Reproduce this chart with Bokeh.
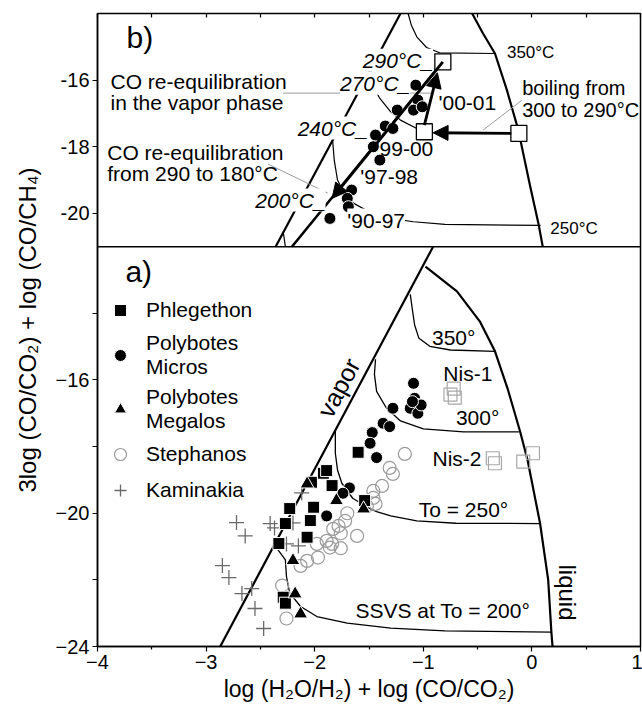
import math
from bokeh.plotting import figure
from bokeh.models import (Range1d, LinearAxis, FixedTicker, Span, Label, Arrow,
                          NormalHead, Legend, LegendItem)
from bokeh.embed import file_html
from bokeh.resources import INLINE

FONT = "Liberation Sans"

# ---------------- axes / ranges ----------------
X_START, X_END = -4, 1
A_Y_START, A_Y_END = -24, -12          # panel a)
B_Y_START, B_Y_END = -21, -14          # panel b)
X_TICKS = [-4, -3, -2, -1, 0, 1]
X_MINOR = [-3.5, -2.5, -1.5, -0.5, 0.5]
X_TOP_TICKS = [-4, -3.5, -3, -2.5, -2, -1.5, -1, -0.5, 0, 0.5, 1]
A_Y_TICKS = [-24, -20, -16]
A_Y_MINOR = [-22, -18, -14]
B_Y_TICKS = [-20, -18, -16]
B_Y_LABELS = ["-20", "-18", "-16"]

# ---------------- panel a) diagram lines ----------------
VAPOR_A_X = [-2.87, -0.91]
VAPOR_A_Y = [-24.0, -12.0]
LIQUID_A_X = [-0.98, -0.69, -0.48, -0.34, -0.22, -0.11, -0.04, 0.075, 0.15, 0.18, 0.19]
LIQUID_A_Y = [-12.6, -13.34, -14.24, -15.14, -16.3, -17.53, -18.4, -20.3, -22.0, -23.6, -24.0]
ISO350_A_X = [-1.12, -1.10, -1.08, -1.04, -0.94, -0.75, -0.34]
ISO350_A_Y = [-13.43, -13.9, -14.35, -14.75, -14.99, -15.1, -15.14]
ISO300_A_X = [-1.44, -1.45, -1.43, -1.34, -1.21, -1.0, -0.63, -0.12]
ISO300_A_Y = [-15.38, -15.83, -16.34, -16.84, -17.23, -17.47, -17.56, -17.56]
ISO250_A_X = [-1.81, -1.81, -1.79, -1.75, -1.65, -1.5, -1.43, -1.3, -1.06, -0.7, 0.08]
ISO250_A_Y = [-17.55, -18.2, -18.7, -19.1, -19.55, -19.85, -19.95, -20.08, -20.23, -20.3, -20.31]
ISO200_A_X = [-2.36, -2.27, -2.26, -2.23, -2.13, -1.98, -1.7, -1.3, -0.8, 0.18]
ISO200_A_Y = [-21.0, -21.4, -21.9, -22.4, -22.8, -23.1, -23.3, -23.45, -23.53, -23.57]

# ---------------- panel a) samples ----------------
PHLEG_X = [-1.60, -2.03, -1.92, -1.89, -1.84, -2.23, -2.27, -2.33, -2.01, -2.04, -2.07, -2.29, -2.27, -1.54]
PHLEG_Y = [-18.17, -19.07, -18.8, -18.72, -19.17, -19.86, -20.31, -20.91, -19.82, -20.22, -20.72, -22.52, -22.7, -19.62]
PMIC_X = [-1.09, -1.08, -1.06, -1.12, -1.05, -1.02, -1.10, -1.28, -1.37, -1.31, -1.47, -1.49, -1.43, -1.68, -1.74, -1.89]
PMIC_Y = [-16.1, -16.55, -16.73, -16.85, -17.0, -16.75, -16.65, -16.85, -17.3, -17.4, -17.58, -17.9, -18.33, -19.24, -19.4, -20.08]
PMEG_X = [-2.07, -1.55, -2.20, -2.18, -2.13, -1.80]
PMEG_Y = [-19.12, -19.87, -21.42, -22.42, -23.02, -19.62]
STEPH_X = [-1.17, -1.31, -1.28, -1.38, -1.46, -1.46, -1.52, -1.44, -1.70, -1.72, -1.78, -1.83,
           -1.76, -1.61, -1.89, -1.84, -1.98, -1.76, -1.86, -1.97, -2.07, -2.13, -2.30, -2.26]
STEPH_Y = [-18.22, -18.64, -18.82, -19.18, -19.33, -19.54, -19.78, -19.72, -20.0, -20.23, -20.38, -20.47,
           -20.6, -20.68, -20.83, -20.92, -20.92, -21.05, -21.03, -21.33, -21.43, -21.58, -22.17, -23.16]
KAMI_X = [-2.72, -2.64, -2.85, -2.79, -2.67, -2.58, -2.55, -2.47, -2.41, -2.37, -2.20, -2.26, -2.15, -2.12]
KAMI_Y = [-20.28, -20.68, -21.57, -21.93, -22.41, -22.26, -22.86, -23.46, -20.31, -20.44, -20.29, -20.92, -20.98, -19.39]
NIS_X = [-0.72, -0.75, -0.71, -0.36, -0.34, -0.08, 0.01]
NIS_Y = [-16.26, -16.44, -16.53, -18.35, -18.5, -18.45, -18.2]

# ---------------- panel b) diagram lines ----------------
VAPOR_B_X = [-2.36, -1.21]
VAPOR_B_Y = [-21.0, -14.0]
LIQUID_B_X = [-0.55, -0.45, -0.34, -0.23, -0.125, -0.015, 0.06, 0.10]
LIQUID_B_Y = [-14.0, -14.6, -15.2, -16.3, -17.5, -19.2, -20.3, -21.0]
ISO350_B_X = [-1.14, -1.11, -1.06, -0.97, -0.85, -0.34]
ISO350_B_Y = [-14.0, -14.35, -14.7, -15.02, -15.18, -15.2]
ISO300_B_X = [-1.48, -1.46, -1.40, -1.30, -1.21, -1.06, -0.99]
ISO300_B_Y = [-15.7, -16.2, -16.55, -16.95, -17.2, -17.45, -17.5]
ISO250_B_X = [-1.84, -1.82, -1.79, -1.72, -1.64, -1.5, -1.3, -1.09, -0.8, 0.08]
ISO250_B_Y = [-17.6, -18.4, -19.0, -19.45, -19.7, -19.95, -20.15, -20.25, -20.33, -20.36]
ISO200_B_X = [-2.29, -2.27]
ISO200_B_Y = [-20.55, -21.0]
REEQ_X = [-0.82, -2.21]
REEQ_Y = [-15.45, -21.0]

# ---------------- panel b) samples ----------------
PB_CIRC_X = [-1.07, -1.24, -1.05, -1.09, -1.01, -1.35, -1.28, -1.44, -1.46, -1.40, -1.66, -1.70, -1.69, -1.86]
PB_CIRC_Y = [-16.15, -16.9, -16.6, -16.9, -16.8, -17.38, -17.45, -17.65, -18.0, -18.4, -19.3, -19.55, -19.8, -20.15]
PB_SQ_X = [-0.82, -0.99, -0.12]
PB_SQ_Y = [-15.45, -17.55, -17.6]

# arrows (x_start, y_start, x_end, y_end)
ARROW_DOWN = (-0.82, -15.45, -1.84, -19.55)
ARROW_UP = (-0.99, -17.35, -0.87, -15.78)
ARROW_BOIL = (-0.19, -17.6, -0.91, -17.58)
# leader lines
LEAD1_X, LEAD1_Y = [-2.29, -0.91], [-16.39, -16.39]
LEAD2_X, LEAD2_Y = [-2.43, -1.88], [-18.52, -19.39]
LEAD3_X, LEAD3_Y = [-0.09, -0.45], [-16.6, -17.5]

# ------------------------------------------------------------
MAIN_Y_END = A_Y_END + (B_Y_END - B_Y_START)
B_OFFSET = MAIN_Y_END - B_Y_END

p = figure(width=642, height=710, x_range=Range1d(X_START, X_END),
           y_range=Range1d(A_Y_START, MAIN_Y_END),
           title="3log (CO/CO₂) + log (CO/CH₄)", title_location="left",
           output_backend="svg", toolbar_location=None,
           min_border_left=97, min_border_right=2, min_border_top=13, min_border_bottom=64)
p.extra_y_ranges = {"b": Range1d(B_Y_START - (A_Y_END - A_Y_START), B_Y_END)}
p.grid.visible = False
p.background_fill_color = "white"
p.border_fill_color = "white"
p.outline_line_color = "black"
p.outline_line_width = 1.5

p.title.text_font = FONT
p.title.text_font_size = "24px"
p.title.text_font_style = "normal"
p.title.text_color = "black"
p.title.align = "center"
p.title.offset = -56
p.title.standoff = 20
p.title.vertical_align = "top"

xa = p.xaxis[0]
xa.ticker = FixedTicker(ticks=X_TICKS, minor_ticks=X_MINOR)
xa.major_tick_out = 5
xa.major_tick_in = 0
xa.minor_tick_out = 3
xa.minor_tick_in = 0
xa.axis_line_width = 1.5
xa.major_tick_line_width = 1.2
xa.minor_tick_line_width = 1.2
xa.major_label_text_font = FONT
xa.major_label_text_font_size = "20px"
xa.major_label_text_color = "black"
xa.major_label_standoff = 3
xa.axis_label = "log (H₂O/H₂) + log (CO/CO₂)"
xa.axis_label_text_font = FONT
xa.axis_label_text_font_size = "23px"
xa.axis_label_text_font_style = "normal"
xa.axis_label_text_color = "black"
xa.axis_label_standoff = 4

ya = p.yaxis[0]
ya.ticker = FixedTicker(ticks=A_Y_TICKS + [t + B_OFFSET for t in B_Y_TICKS], minor_ticks=A_Y_MINOR)
ya.major_label_overrides = {t + B_OFFSET: l for t, l in zip(B_Y_TICKS, B_Y_LABELS)}
ya.major_tick_out = 5
ya.major_tick_in = 0
ya.minor_tick_out = 5
ya.minor_tick_in = 0
ya.axis_line_width = 1.5
ya.major_tick_line_width = 1.2
ya.minor_tick_line_width = 1.2
ya.major_label_text_font = FONT
ya.major_label_text_font_size = "20px"
ya.major_label_text_color = "black"
ya.major_label_standoff = 3

top = LinearAxis(ticker=FixedTicker(ticks=[], minor_ticks=X_TOP_TICKS),
                 minor_tick_in=4, minor_tick_out=0, major_tick_in=0, major_tick_out=0,
                 minor_tick_line_width=1.2, axis_line_color=None, major_label_standoff=0)
p.add_layout(top, "above")

p.add_layout(Span(location=A_Y_END, dimension="width", line_color="black", line_width=1.5))

# ---- panel a lines ----
p.line(VAPOR_A_X, VAPOR_A_Y, line_color="black", line_width=2.2)
p.line(LIQUID_A_X, LIQUID_A_Y, line_color="black", line_width=2.2)
for xs, ys in [(ISO350_A_X, ISO350_A_Y), (ISO300_A_X, ISO300_A_Y),
               (ISO250_A_X, ISO250_A_Y), (ISO200_A_X, ISO200_A_Y)]:
    p.line(xs, ys, line_color="black", line_width=1.3)

# ---- panel b lines ----
p.line(VAPOR_B_X, VAPOR_B_Y, line_color="black", line_width=2.2, y_range_name="b")
p.line(LIQUID_B_X, LIQUID_B_Y, line_color="black", line_width=2.2, y_range_name="b")
for xs, ys in [(ISO350_B_X, ISO350_B_Y), (ISO300_B_X, ISO300_B_Y),
               (ISO250_B_X, ISO250_B_Y), (ISO200_B_X, ISO200_B_Y)]:
    p.line(xs, ys, line_color="black", line_width=1.2, y_range_name="b")
p.line(REEQ_X, REEQ_Y, line_color="black", line_width=2.6, y_range_name="b")
for xs, ys in [(LEAD1_X, LEAD1_Y), (LEAD2_X, LEAD2_Y), (LEAD3_X, LEAD3_Y)]:
    p.line(xs, ys, line_color="#9a9a9a", line_width=1, y_range_name="b")

for (x0, y0, x1, y1) in [ARROW_DOWN, ARROW_UP, ARROW_BOIL]:
    p.add_layout(Arrow(end=NormalHead(size=15, fill_color="black", line_color="black"),
                       x_start=x0, y_start=y0, x_end=x1, y_end=y1,
                       line_width=2.8, line_color="black", y_range_name="b"))

# ---- panel a points ----
r_kami = p.scatter(KAMI_X, KAMI_Y, marker="cross", size=15, line_color="#6a6a6a", line_width=1.3)
r_steph = p.scatter(STEPH_X, STEPH_Y, marker="circle", size=13, fill_color=None,
                    line_color="#9a9a9a", line_width=1.2)
r_phleg = p.scatter(PHLEG_X, PHLEG_Y, marker="square", size=12, fill_color="black",
                    line_color="white", line_width=1)
r_pmic = p.scatter(PMIC_X, PMIC_Y, marker="circle", size=12, fill_color="black",
                   line_color="white", line_width=1)
r_pmeg = p.scatter(PMEG_X, PMEG_Y, marker="triangle", size=14, fill_color="black",
                   line_color="white", line_width=1)
p.scatter(NIS_X, NIS_Y, marker="square", size=13, fill_color=None, line_color="#a8a8a8", line_width=1.2)

# ---- panel b points ----
p.scatter(PB_CIRC_X, PB_CIRC_Y, marker="circle", size=12, fill_color="black",
          line_color="white", line_width=1, y_range_name="b")
p.scatter(PB_SQ_X, PB_SQ_Y, marker="square", size=16, fill_color="white",
          line_color="black", line_width=1.3, y_range_name="b")

legend = Legend(items=[LegendItem(label="Phlegethon", renderers=[r_phleg]),
                       LegendItem(label="Polybotes\nMicros", renderers=[r_pmic]),
                       LegendItem(label="Polybotes\nMegalos", renderers=[r_pmeg]),
                       LegendItem(label="Stephanos", renderers=[r_steph]),
                       LegendItem(label="Kaminakia", renderers=[r_kami])],
                location=(8, 141), glyph_width=30, glyph_height=30, label_height=24,
                label_standoff=11, spacing=6, padding=0, margin=0,
                border_line_color=None, background_fill_alpha=0,
                label_text_font=FONT, label_text_font_size="21px", label_text_color="black")
p.add_layout(legend)


def lab(x, y, text, size=21, align="left", baseline="middle", b=False,
        italic=False, bg=None, angle=0.0):
    kw = dict(x=x, y=y, text=text, text_font=FONT, text_font_size=f"{size}px",
              text_align=align, text_baseline=baseline, angle=angle, text_color="black")
    if b:
        kw["y_range_name"] = "b"
    if italic:
        kw["text_font_style"] = "italic"
    if bg:
        kw["background_fill_color"] = bg
    p.add_layout(Label(**kw))


# panel b texts
lab(-3.61, -14.71, "b)", size=30, align="center", b=True)
lab(-3.88, -16.03, "CO re-equilibration", b=True)
lab(-3.88, -16.66, "in the vapor phase", b=True)
lab(-3.91, -18.16, "CO re-equilibration", b=True)
lab(-3.91, -18.79, "from 290 to 180°C", b=True)
lab(-0.09, -16.24, "boiling from", b=True, size=20)
lab(-0.09, -16.90, "300 to 290°C", b=True, size=20)
lab(-0.23, -15.16, "350°C", b=True, size=17)
lab(0.17, -20.44, "250°C", b=True, size=17)
lab(-0.91, -15.40, "290°C_", b=True, italic=True, bg="white", align="right")
lab(-1.12, -16.09, "270°C_", b=True, italic=True, bg="white", align="right")
lab(-1.51, -17.44, "240°C_", b=True, italic=True, bg="white", align="right")
lab(-1.90, -19.60, "200°C_", b=True, italic=True, bg="white", align="right")
lab(-0.86, -16.66, "'00-01", b=True)
lab(-1.44, -18.04, "'99-00", b=True)
lab(-1.58, -18.90, "'97-98", b=True)
lab(-1.70, -20.20, "'90-97", b=True, bg="white")

# panel a texts
lab(-3.62, -12.75, "a)", size=30, align="center")
lab(-0.72, -14.73, "350°", align="center")
lab(-0.59, -15.81, "Nis-1", align="center")
lab(-0.50, -17.13, "300°", align="center")
lab(-0.69, -18.36, "Nis-2", align="center")
lab(-0.63, -19.89, "To = 250°", align="center")
lab(-0.82, -22.92, "SSVS at To = 200°", align="center")
lab(0.33, -22.38, "liquid", size=24, align="center", angle=-math.pi / 2)
lab(-1.78, -16.23, "vapor", size=25, align="center", angle=math.radians(61.8))

open("out.html", "w").write(file_html(p, INLINE))
